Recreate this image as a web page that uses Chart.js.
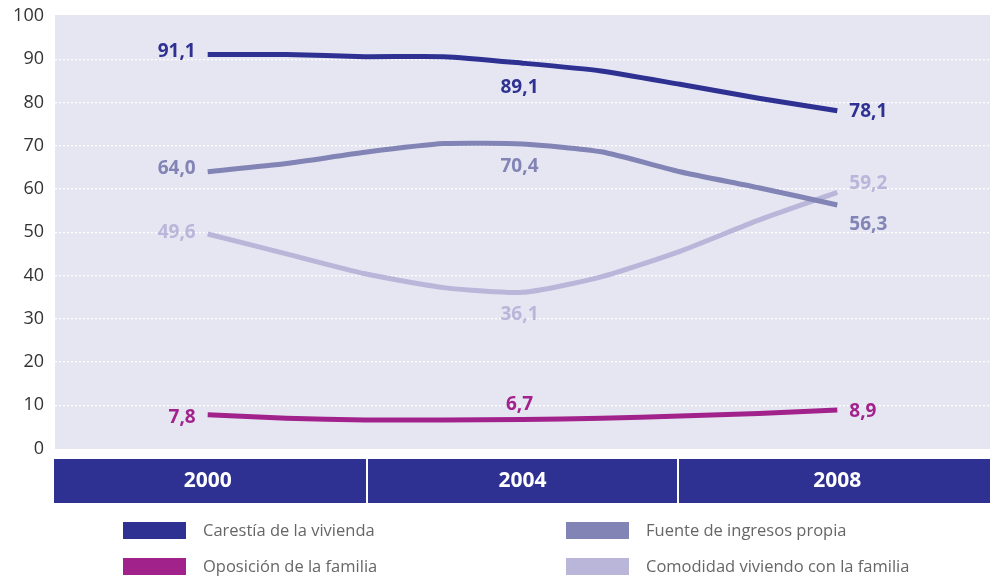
<!DOCTYPE html>
<html>
<head>
<meta charset="utf-8">
<script src="https://cdn.jsdelivr.net/npm/chart.js@4"></script>
<style>
html,body{margin:0;padding:0;background:#fff;}
#wrap{width:996px;height:576px;position:relative;}
</style>
</head>
<body>
<div id="wrap"><canvas id="c" width="996" height="576"></canvas></div>
<script>
// ---- data ----
const years = [2000, 2001, 2002, 2003, 2004, 2005, 2006, 2007, 2008];
const bandYears = [2000, 2004, 2008];
const seriesNames = ["Carestía de la vivienda", "Fuente de ingresos propia", "Oposición de la familia", "Comodidad viviendo con la familia"];
const carestia   = [91.1, 91.1, 90.6, 90.6, 89.1, 87.3, 84.2, 81.0, 78.1];
const fuente     = [64.0, 65.9, 68.5, 70.5, 70.4, 68.6, 64.0, 60.3, 56.3];
const oposicion  = [7.8, 7.0, 6.6, 6.6, 6.7, 7.0, 7.5, 8.1, 8.9];
const comodidad  = [49.6, 45.0, 40.4, 37.2, 36.1, 39.7, 45.6, 52.8, 59.2];
const yTicks = [0, 10, 20, 30, 40, 50, 60, 70, 80, 90, 100];

const colors = ["#2e3192", "#8384b6", "#a2228b", "#b9b6da"];
const FONT = "'Open Sans', 'Noto Sans', sans-serif";

// label placement (style only): index, align, dx, dy
const labelSpecs = [
  [{i:0,a:'right',dx:-12,dy:-3},{i:4,a:'center',dx:-3,dy:24},{i:8,a:'left',dx:12,dy:1}],
  [{i:0,a:'right',dx:-12,dy:-3},{i:4,a:'center',dx:-3,dy:23},{i:8,a:'left',dx:12,dy:20}],
  [{i:0,a:'right',dx:-12,dy:3},{i:4,a:'center',dx:-3,dy:-15},{i:8,a:'left',dx:12,dy:2}],
  [{i:0,a:'right',dx:-12,dy:-1},{i:4,a:'center',dx:-3,dy:22},{i:8,a:'left',dx:12,dy:-9}]
];

const allSeries = [carestia, fuente, oposicion, comodidad];
const datasets = allSeries.map((vals, k) => ({
  label: seriesNames[k],
  data: years.map((y, i) => ({x: y, y: vals[i]})),
  borderColor: colors[k],
  backgroundColor: colors[k],
  borderWidth: 5,
  borderCapStyle: 'butt',
  borderJoinStyle: 'round',
  pointRadius: 0,
  pointHoverRadius: 0,
  tension: 0.2,
  fill: false
}));

const bgPlugin = {
  id: 'bgPlugin',
  beforeDraw(chart) {
    const {ctx, chartArea: a} = chart;
    ctx.save();
    ctx.fillStyle = '#e5e6f2';
    ctx.fillRect(a.left, a.top - 1, a.right - a.left, a.bottom - a.top + 1.5);
    // category band
    const top = 459, h = 44;
    ctx.fillStyle = '#2e3192';
    ctx.fillRect(a.left - 1, top, a.right - a.left + 1, h);
    ctx.fillStyle = '#ffffff';
    const w = (a.right - a.left) / 3;
    for (let j = 1; j < 3; j++) {
      ctx.fillRect(Math.round(a.left + w * j) - 1, top, 2, h);
    }
    ctx.restore();
  }
};

const labelPlugin = {
  id: 'labelPlugin',
  afterDatasetsDraw(chart) {
    const ctx = chart.ctx;
    ctx.save();
    ctx.font = "bold 19px " + FONT;
    ctx.textBaseline = 'middle';
    chart.data.datasets.forEach((ds, k) => {
      const meta = chart.getDatasetMeta(k);
      labelSpecs[k].forEach(s => {
        const pt = meta.data[s.i];
        const v = ds.data[s.i].y;
        ctx.fillStyle = colors[k];
        ctx.textAlign = s.a;
        ctx.fillText(v.toFixed(1).replace('.', ','), pt.x + s.dx, pt.y + s.dy);
      });
    });
    ctx.restore();
  }
};

const legendPlugin = {
  id: 'legendPlugin',
  afterDraw(chart) {
    const ctx = chart.ctx;
    const pos = [[123, 522], [566, 522], [123, 558], [566, 558]];
    ctx.save();
    ctx.font = "16.5px " + FONT;
    ctx.textBaseline = 'middle';
    ctx.textAlign = 'left';
    chart.data.datasets.forEach((ds, k) => {
      const [x, y] = pos[k];
      ctx.fillStyle = colors[k];
      ctx.fillRect(x, y, 63, 17);
      ctx.fillStyle = '#666666';
      ctx.fillText(ds.label, x + 80, y + 9);
    });
    ctx.restore();
  }
};

new Chart(document.getElementById('c'), {
  type: 'line',
  data: {datasets},
  options: {
    responsive: false,
    animation: false,
    layout: {padding: {top: 16, right: 6, left: 0, bottom: 0}},
    plugins: {legend: {display: false}, tooltip: {enabled: false}},
    scales: {
      x: {
        type: 'linear',
        min: 1998.06,
        max: 2009.94,
        afterFit(scale) { scale.height = 127.5; scale.paddingLeft = 0; scale.paddingRight = 0; },
        afterBuildTicks(scale) { scale.ticks = bandYears.map(v => ({value: v})); },
        grid: {display: false, drawTicks: false},
        border: {display: false},
        ticks: {
          color: '#ffffff',
          font: {family: FONT, size: 21, weight: 'bold'},
          padding: 20,
          autoSkip: false,
          maxRotation: 0,
          callback: v => String(v)
        }
      },
      y: {
        min: 0,
        max: 100,
        afterFit(scale) { scale.width = 55; scale.paddingTop = 0; scale.paddingBottom = 0; },
        afterBuildTicks(scale) { scale.ticks = yTicks.map(v => ({value: v})); },
        grid: {
          drawTicks: false,
          lineWidth: 1.3,
          color: c => (c.tick && (c.tick.value === 0 || c.tick.value === 100)) ? 'rgba(0,0,0,0)' : '#ffffff'
        },
        border: {display: false, dash: [2, 2]},
        ticks: {
          color: '#333333',
          font: {family: FONT, size: 18},
          padding: 11
        }
      }
    }
  },
  plugins: [bgPlugin, labelPlugin, legendPlugin]
});
</script>
</body>
</html>
